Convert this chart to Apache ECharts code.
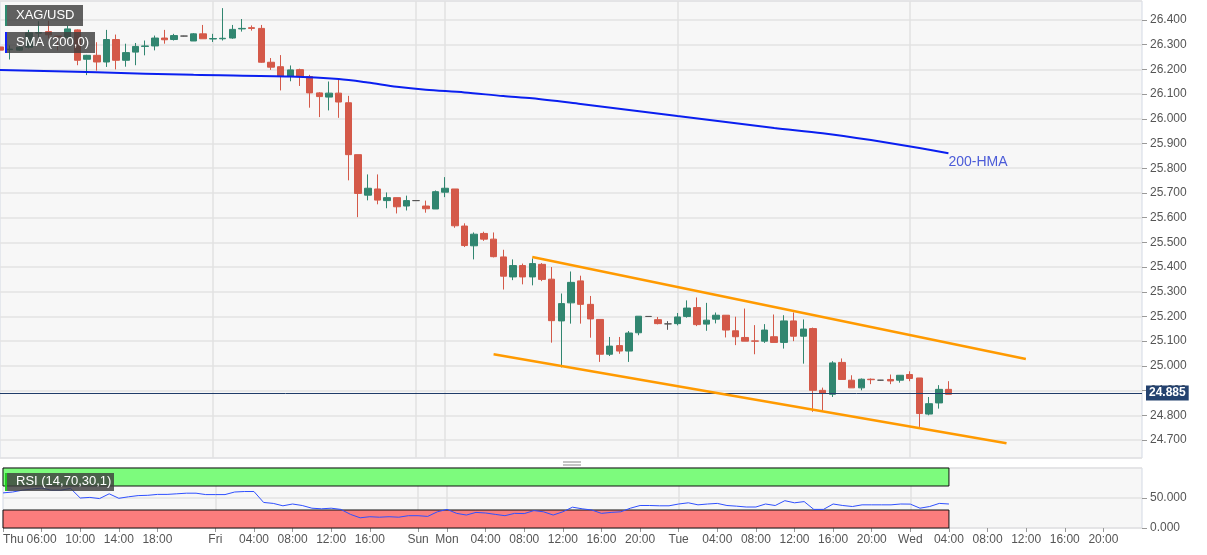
<!DOCTYPE html>
<html>
<head>
<meta charset="utf-8">
<script src="https://cdn.jsdelivr.net/npm/echarts@6/dist/echarts.min.js"></script>
<style>
  html, body { margin: 0; padding: 0; background: #fff; }
  #chart { width: 1207px; height: 555px; }
</style>
</head>
<body>
<div id="chart"></div>
<script>
// hourly candles, Thu 02:00 .. Wed 04:00 (weekend skipped)
const opens = [26.291, 26.280, 26.278, 26.290, 26.347, 26.353, 26.335, 26.330, 26.360, 26.241,
  26.257, 26.230, 26.321, 26.237, 26.270, 26.293, 26.295, 26.327, 26.321, 26.335,
  26.315, 26.344, 26.323, 26.324, 26.327, 26.364, 26.369, 26.366, 26.229, 26.211,
  26.171, 26.199, 26.171, 26.105, 26.088, 26.104, 26.065, 25.855, 25.691, 25.716,
  25.669, 25.681, 25.647, 25.669, 25.647, 25.635, 25.703, 25.716, 25.566, 25.486,
  25.536, 25.513, 25.441, 25.360, 25.406, 25.360, 25.411, 25.351, 25.182, 25.255,
  25.344, 25.249, 25.188, 25.047, 25.082, 25.060, 25.134, 25.200, 25.187, 25.170,
  25.171, 25.200, 25.236, 25.169, 25.189, 25.205, 25.142, 25.115, 25.101, 25.100,
  25.118, 25.095, 25.182, 25.120, 25.151, 24.901, 24.885, 25.014, 24.942, 24.911,
  24.946, 24.942, 24.945, 24.942, 24.965, 24.951, 24.805, 24.850, 24.905]
const closes = [26.278, 26.282, 26.290, 26.348, 26.349, 26.340, 26.332, 26.364, 26.237, 26.257,
  26.230, 26.321, 26.237, 26.268, 26.293, 26.295, 26.327, 26.320, 26.337, 26.335,
  26.344, 26.324, 26.325, 26.326, 26.362, 26.366, 26.366, 26.229, 26.209, 26.173,
  26.198, 26.172, 26.105, 26.090, 26.104, 26.068, 25.855, 25.698, 25.719, 25.671,
  25.681, 25.644, 25.669, 25.669, 25.636, 25.705, 25.719, 25.567, 25.487, 25.533,
  25.513, 25.442, 25.363, 25.406, 25.360, 25.414, 25.350, 25.183, 25.252, 25.338,
  25.249, 25.190, 25.047, 25.080, 25.060, 25.133, 25.201, 25.200, 25.171, 25.170,
  25.198, 25.234, 25.167, 25.185, 25.205, 25.145, 25.118, 25.100, 25.100, 25.145,
  25.095, 25.182, 25.120, 25.149, 24.901, 24.888, 25.012, 24.945, 24.911, 24.946,
  24.944, 24.942, 24.939, 24.962, 24.949, 24.807, 24.847, 24.905, 24.885]
const lows = [26.262, 26.240, 26.275, 26.285, 26.330, 26.325, 26.277, 26.324, 26.217, 26.177,
  26.195, 26.210, 26.200, 26.211, 26.217, 26.257, 26.277, 26.304, 26.317, 26.334,
  26.315, 26.324, 26.311, 26.317, 26.324, 26.353, 26.357, 26.227, 26.198, 26.115,
  26.152, 26.133, 26.045, 26.007, 26.034, 26.004, 25.751, 25.602, 25.670, 25.654,
  25.638, 25.617, 25.629, 25.668, 25.620, 25.635, 25.683, 25.559, 25.481, 25.431,
  25.506, 25.439, 25.309, 25.347, 25.330, 25.326, 25.343, 25.094, 24.994, 25.171,
  25.171, 25.114, 25.016, 25.040, 25.049, 25.016, 25.124, 25.199, 25.168, 25.146,
  25.164, 25.195, 25.161, 25.142, 25.172, 25.115, 25.084, 25.100, 25.047, 25.093,
  25.095, 25.070, 25.100, 25.009, 24.814, 24.820, 24.874, 24.945, 24.911, 24.901,
  24.926, 24.941, 24.926, 24.932, 24.938, 24.753, 24.800, 24.827, 24.885]
const highs = [26.300, 26.297, 26.295, 26.360, 26.395, 26.397, 26.336, 26.377, 26.362, 26.259,
  26.310, 26.360, 26.341, 26.304, 26.307, 26.317, 26.337, 26.360, 26.344, 26.336,
  26.347, 26.380, 26.344, 26.448, 26.380, 26.404, 26.378, 26.380, 26.246, 26.258,
  26.216, 26.203, 26.178, 26.108, 26.151, 26.165, 26.093, 25.855, 25.775, 25.775,
  25.702, 25.681, 25.689, 25.670, 25.669, 25.710, 25.764, 25.716, 25.577, 25.540,
  25.543, 25.540, 25.470, 25.431, 25.414, 25.435, 25.416, 25.400, 25.293, 25.382,
  25.365, 25.283, 25.188, 25.117, 25.117, 25.141, 25.201, 25.201, 25.198, 25.181,
  25.214, 25.265, 25.277, 25.255, 25.216, 25.205, 25.199, 25.232, 25.165, 25.169,
  25.208, 25.205, 25.216, 25.188, 25.155, 24.912, 25.019, 25.030, 24.962, 24.949,
  24.949, 24.943, 24.965, 24.962, 24.978, 24.951, 24.874, 24.922, 24.938]

// RSI (14) per candle
const rsi = [58.5, 60, 63, 65, 66.5, 63, 63, 66, 50, 51,
  49, 57, 49.5, 52, 54, 54.5, 56, 56, 57, 58,
  58, 55.7, 55.7, 55.7, 60, 60.8, 60.8, 42.6, 41, 37,
  40, 37.5, 33, 32, 33, 31, 22.7, 17, 18.8, 18,
  18.8, 18, 20.5, 20.5, 19.3, 27, 31, 24.4, 21.6, 26,
  25, 22.7, 20.5, 24.4, 24, 29, 27, 21.6, 27, 34.7,
  32, 30, 24.4, 26, 27, 33, 37.5, 37.5, 37, 37,
  40, 42, 38.6, 40, 41, 37.5, 36.4, 35, 35, 40,
  37.5, 45.5, 42, 44, 31, 31, 40, 37.5, 35.8, 38.6,
  38.6, 38.6, 38.6, 40, 39.8, 33, 35.8, 41, 40]

// 200 moving average, sampled [candle, value]
const sma200 = [[0, 26.198], [10, 26.188], [20, 26.178], [30, 26.171], [35, 26.161], [38, 26.147],
  [41, 26.13], [44, 26.118], [48, 26.107], [52, 26.092], [55, 26.083], [60, 26.06], [65, 26.036],
  [70, 26.011], [75, 25.987], [80, 25.963], [85, 25.942], [90, 25.914], [95, 25.882], [98, 25.861]]

// channel lines
const channelTop = [[55, 25.441], [106, 25.028]]
const channelBottom = [[51, 25.047], [104, 24.687]]

const lastPrice = 24.885

// time slots on the x axis
const days = [['Thu', 2, 23], ['Fri', 0, 20], ['Sun', 21, 23], ['Mon', 0, 23], ['Tue', 0, 23], ['Wed', 0, 23], ['Thu2', 0, 0]]
const slots = []
days.forEach(([d, h0, h1]) => {
  for (let h = h0; h <= h1; h++) slots.push(d + ' ' + String(h).padStart(2, '0') + ':00')
})

const tickLabels = {
  0: 'Thu', 4: '06:00', 8: '10:00', 12: '14:00', 16: '18:00',
  22: 'Fri', 26: '04:00', 30: '08:00', 34: '12:00', 38: '16:00',
  43: 'Sun', 46: 'Mon', 50: '04:00', 54: '08:00', 58: '12:00', 62: '16:00', 66: '20:00',
  70: 'Tue', 74: '04:00', 78: '08:00', 82: '12:00', 86: '16:00', 90: '20:00',
  94: 'Wed', 98: '04:00', 102: '08:00', 106: '12:00', 110: '16:00', 114: '20:00'
}
const dayStarts = [22, 43, 46, 70, 94]

const candleData = opens.map((o, i) => [o, closes[i], lows[i], highs[i]])

const font = 'Liberation Sans, Arial, sans-serif'
const gridBg = '#f7f7f7'
const frame = '#d3d9e4'

const chart = echarts.init(document.getElementById('chart'), null, { renderer: 'canvas' })

// dark semi-transparent caption boxes in the top-left corners
const legendBox = (y, w, h, stripe, text) => [
  { type: 'rect', zlevel: 2, z: 100, left: 5, top: y, shape: { width: w, height: h }, style: { fill: 'rgba(62,62,62,0.82)' } },
  { type: 'rect', zlevel: 2, z: 101, left: 5, top: y, shape: { width: 2, height: h }, style: { fill: stripe } },
  { type: 'text', zlevel: 2, z: 102, left: 16, top: y + (h - 14) / 2, style: { text: text, fill: '#fff', font: '13px ' + font } }
]

const option = {
  animation: false,
  backgroundColor: '#fff',
  grid: [
    { left: 0, right: 65, top: 1, height: 457, show: true, backgroundColor: gridBg, borderColor: frame, borderWidth: 1 },
    { left: 0, right: 65, top: 468, height: 60, show: true, backgroundColor: gridBg, borderColor: frame, borderWidth: 1 }
  ],
  xAxis: [
    {
      type: 'category', gridIndex: 0, data: slots, boundaryGap: false,
      axisLine: { show: false }, axisTick: { show: false }, axisLabel: { show: false },
      splitLine: { show: true, interval: (i) => dayStarts.includes(i), lineStyle: { color: '#e2e2e2', width: 1.5 } }
    },
    {
      type: 'category', gridIndex: 1, data: slots, boundaryGap: false,
      axisLine: { show: false },
      axisTick: { show: true, length: 4, interval: (i) => tickLabels[i] !== undefined, lineStyle: { color: '#999' } },
      axisLabel: {
        show: true, interval: (i) => tickLabels[i] !== undefined,
        formatter: (v, i) => tickLabels[i] || '',
        color: '#555', fontSize: 12, fontFamily: font, margin: 6,
        alignMinLabel: 'left'
      },
      splitLine: { show: true, interval: (i) => dayStarts.includes(i), lineStyle: { color: '#e2e2e2', width: 1.5 } }
    }
  ],
  yAxis: [
    {
      type: 'value', gridIndex: 0, position: 'right', scale: true,
      min: 24.6271, max: 26.4769, splitNumber: 18,
      axisLine: { show: false },
      axisTick: { show: true, length: 5, lineStyle: { color: '#999' } },
      axisLabel: { color: '#555', fontSize: 12, fontFamily: font, margin: 8, showMinLabel: false, showMaxLabel: false,
        formatter: (v) => v.toFixed(3) },
      splitLine: { show: true, lineStyle: { color: '#e3e3e3', width: 1.5 } }
    },
    {
      type: 'value', gridIndex: 1, position: 'right', min: 0, max: 100, interval: 50,
      axisLine: { show: false },
      axisTick: { show: true, length: 5, lineStyle: { color: '#999' } },
      axisLabel: { color: '#555', fontSize: 12, fontFamily: font, margin: 8, showMaxLabel: false,
        formatter: (v) => v.toFixed(3) },
      splitLine: { show: true, lineStyle: { color: '#e3e3e3', width: 1.5 } }
    }
  ],
  series: [
    {
      name: 'XAG/USD', type: 'candlestick', xAxisIndex: 0, yAxisIndex: 0,
      data: candleData, barWidth: 7,
      itemStyle: {
        color: '#318670', color0: '#d45949',
        borderColor: '#318670', borderColor0: '#d45949',
        borderColorDoji: '#555', borderWidth: 1
      },
      markLine: {
        silent: true, symbol: ['none', 'none'],
        lineStyle: { color: '#1f3c69', width: 1, type: 'solid' },
        label: {
          position: 'end', formatter: lastPrice.toFixed(3), color: '#fff', fontWeight: 'bold',
          fontSize: 12, fontFamily: font, backgroundColor: '#24426f', padding: [2, 3, 1, 3], distance: 4
        },
        data: [{ yAxis: lastPrice }]
      },
      z: 3
    },
    {
      name: 'SMA (200,0)', type: 'line', xAxisIndex: 0, yAxisIndex: 0,
      data: sma200, smooth: 0.3, showSymbol: false,
      lineStyle: { color: '#0a1ff0', width: 2 },
      endLabel: { show: true, formatter: '200-HMA', color: '#4b5bd8', fontSize: 14, fontFamily: font, offset: [-8, 9] },
      z: 4
    },
    {
      type: 'line', xAxisIndex: 0, yAxisIndex: 0, data: channelTop, showSymbol: false,
      lineStyle: { color: '#ff9a00', width: 2.5 }, z: 5
    },
    {
      type: 'line', xAxisIndex: 0, yAxisIndex: 0, data: channelBottom, showSymbol: false,
      lineStyle: { color: '#ff9a00', width: 2.5 }, z: 5
    },
    {
      name: 'RSI', type: 'line', xAxisIndex: 1, yAxisIndex: 1, data: rsi, showSymbol: false,
      lineStyle: { color: '#2f50ff', width: 1 },
      markArea: {
        silent: true,
        data: [
          [{ xAxis: 0, yAxis: 70, itemStyle: { color: '#7dfb7d', borderColor: '#111', borderWidth: 1 } }, { xAxis: 98, yAxis: 100 }],
          [{ xAxis: 0, yAxis: 0, itemStyle: { color: '#fb7d7d', borderColor: '#111', borderWidth: 1 } }, { xAxis: 98, yAxis: 30 }]
        ]
      },
      z: 4
    }
  ],
  graphic: [
    ...legendBox(5, 78, 21, '#2e8b70', 'XAG/USD'),
    ...legendBox(32, 90, 21, '#1020ff', 'SMA (200,0)'),
    ...legendBox(473, 109, 18, '#22cc22', 'RSI (14,70,30,1)'),
    { type: 'line', shape: { x1: 563, y1: 462, x2: 581, y2: 462 }, style: { stroke: '#888', lineWidth: 1 } },
    { type: 'line', shape: { x1: 563, y1: 465, x2: 581, y2: 465 }, style: { stroke: '#888', lineWidth: 1 } }
  ]
}

chart.setOption(option)
window.addEventListener('resize', () => chart.resize())
</script>
</body>
</html>
